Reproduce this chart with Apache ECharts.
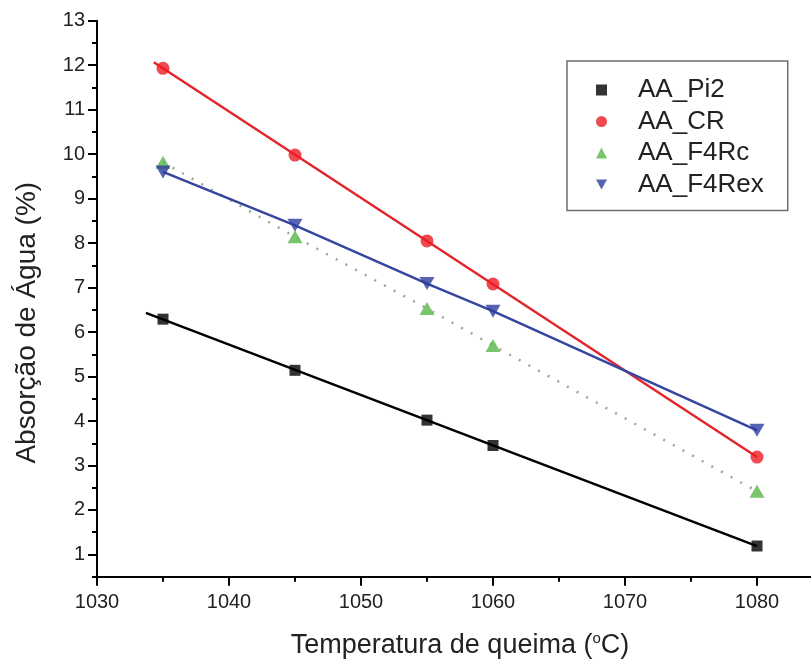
<!DOCTYPE html>
<html>
<head>
<meta charset="utf-8">
<script src="https://cdn.jsdelivr.net/npm/echarts@6/dist/echarts.min.js"></script>
<style>html,body{margin:0;padding:0;background:#fff;}#c{width:811px;height:665px;}</style>
</head>
<body>
<div id="c"></div>
<script>
// ---- data ----
const temps = [1035, 1045, 1055, 1060, 1080];
const aaPi2 = [6.29, 5.14, 4.02, 3.45, 1.19];
const aaCR = [11.93, 9.98, 8.05, 7.08, 3.19];
const aaF4Rc = [9.82, 8.14, 6.53, 5.70, 2.42];
const aaF4Rex = [9.60, 8.40, 7.09, 6.47, 3.79];
const seriesNames = ['AA_Pi2', 'AA_CR', 'AA_F4Rc', 'AA_F4Rex'];
// where the fitted straight lines start (x value)
const fitStartPi2 = 1033.7;
const fitStartCR = 1034.3;

const FONT = 'Liberation Sans, Arial, sans-serif';

function pairs(xs, ys) { return xs.map((x, i) => [x, ys[i]]); }
function fitLine(xs, ys, x0) {
  const n = xs.length;
  const mx = xs.reduce((a, b) => a + b, 0) / n;
  const my = ys.reduce((a, b) => a + b, 0) / n;
  let sxy = 0, sxx = 0;
  for (let i = 0; i < n; i++) { sxy += (xs[i] - mx) * (ys[i] - my); sxx += (xs[i] - mx) * (xs[i] - mx); }
  const b = sxy / sxx, a = my - b * mx;
  const x1 = xs[n - 1];
  return [[x0, a + b * x0], [x1, a + b * x1]];
}

const chart = echarts.init(document.getElementById('c'), null, { renderer: 'canvas' });

const lineBase = { type: 'line', showSymbol: false, symbol: 'none', silent: true, z: 2, legendHoverLink: false };
const tickStyle = { color: '#000', width: 2 };
const gridBox = { left: 97, top: 20.7, width: 792, height: 556, containLabel: false, outerBoundsMode: 'none' };

chart.setOption({
  animation: false,
  backgroundColor: '#ffffff',
  textStyle: { fontFamily: FONT },
  grid: [Object.assign({}, gridBox), Object.assign({}, gridBox)],
  legend: {
    data: [
      { name: 'AA_Pi2', icon: 'rect' },
      { name: 'AA_CR', icon: 'circle' },
      { name: 'AA_F4Rc', icon: 'triangle' },
      { name: 'AA_F4Rex', icon: 'path://M0,0L10,0L5,9Z' }
    ],
    orient: 'vertical',
    left: 567, top: 61,
    padding: [16, 24, 13, 29],
    itemWidth: 11, itemHeight: 11,
    itemGap: 5.5,
    borderColor: '#6e6e6e', borderWidth: 1.5, borderRadius: 0,
    selectedMode: false,
    textStyle: { fontFamily: FONT, fontSize: 26, color: '#222', lineHeight: 26, padding: [0, 0, 0, 26] }
  },
  xAxis: [{
    gridIndex: 0,
    type: 'value', min: 1030, max: 1090, interval: 10,
    name: 'Temperatura de queima ({s|o}C)', nameLocation: 'middle', nameGap: 55,
    nameTextStyle: { fontFamily: FONT, fontSize: 27, color: '#222', padding: [0, 66, 0, 0],
      rich: { s: { fontFamily: FONT, fontSize: 15, color: '#222', verticalAlign: 'top', padding: [0, 0, 10, 0] } } },
    axisLine: { show: true, onZero: false, lineStyle: { color: '#000', width: 2 } },
    axisTick: { show: true, length: 9, lineStyle: tickStyle },
    splitLine: { show: false },
    axisLabel: { fontFamily: FONT, fontSize: 20, color: '#222', margin: 16, formatter: v => String(v) }
  }, {
    gridIndex: 1,
    type: 'value', min: 1030, max: 1090, interval: 5, position: 'bottom',
    axisLine: { show: false, onZero: false },
    axisTick: { show: true, length: 5, lineStyle: tickStyle },
    axisLabel: { show: false }, splitLine: { show: false }
  }],
  yAxis: [{
    gridIndex: 0,
    type: 'value', min: 0.5, max: 13, splitNumber: 12,
    name: 'Absorção de Água (%)', nameLocation: 'middle', nameGap: 56,
    nameTextStyle: { fontFamily: FONT, fontSize: 28, color: '#222', padding: [0, 48, 0, 0] },
    axisLine: { show: true, onZero: false, lineStyle: { color: '#000', width: 2 } },
    axisTick: { show: true, length: 9, lineStyle: tickStyle },
    splitLine: { show: false },
    axisLabel: { fontFamily: FONT, fontSize: 20, color: '#222', margin: 12, showMinLabel: false, formatter: v => String(v) }
  }, {
    gridIndex: 1,
    type: 'value', min: 0.5, max: 13, interval: 0.5, position: 'left',
    axisLine: { show: false, onZero: false },
    axisTick: { show: true, length: 5, lineStyle: tickStyle },
    axisLabel: { show: false }, splitLine: { show: false }
  }],
  series: [
    Object.assign({}, lineBase, { name: 'fit_Pi2', data: fitLine(temps, aaPi2, fitStartPi2), lineStyle: { color: '#000000', width: 2.5 } }),
    Object.assign({}, lineBase, { name: 'fit_CR', data: fitLine(temps, aaCR, fitStartCR), lineStyle: { color: '#e3262b', width: 2.5 } }),
    Object.assign({}, lineBase, { name: 'line_F4Rc', data: pairs(temps, aaF4Rc), lineStyle: { color: '#9ea88f', width: 2.5, type: [2, 9] } }),
    Object.assign({}, lineBase, { name: 'line_F4Rex', data: pairs(temps, aaF4Rex), lineStyle: { color: '#3546a0', width: 2.5 } }),
    { type: 'scatter', name: 'AA_Pi2', data: pairs(temps, aaPi2), symbol: 'rect', symbolSize: 11, itemStyle: { color: '#000000' }, z: 5 },
    { type: 'scatter', name: 'AA_CR', data: pairs(temps, aaCR), symbol: 'circle', symbolSize: 13, itemStyle: { color: '#ee1c24' }, z: 5 },
    { type: 'scatter', name: 'AA_F4Rc', data: pairs(temps, aaF4Rc), symbol: 'triangle', symbolSize: [15, 13], itemStyle: { color: '#58b548' }, z: 5 },
    { type: 'scatter', name: 'AA_F4Rex', data: pairs(temps, aaF4Rex), symbol: 'path://M0,0L10,0L5,9Z', symbolSize: [15, 13], itemStyle: { color: '#2b3c9c' }, z: 5 },
    { type: 'scatter', name: 'tickHolder', xAxisIndex: 1, yAxisIndex: 1, data: [], silent: true }
  ]
});
</script>
</body>
</html>
